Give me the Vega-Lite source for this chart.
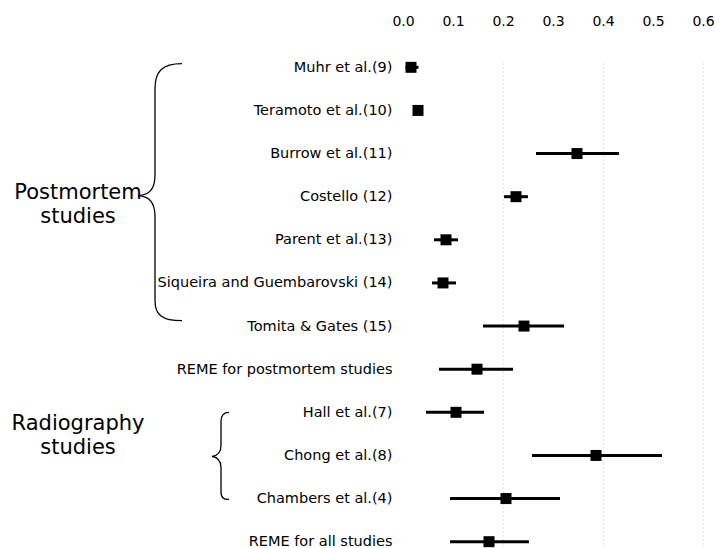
{
  "$schema": "https://vega.github.io/schema/vega-lite/v6.json",
  "padding": {"left": 0, "top": 14, "right": 0, "bottom": 0},
  "bounds": "flush",
  "spacing": 247,
  "config": {"view": {"stroke": null}, "font": "DejaVu Sans"},
  "resolve": {"scale": {"y": "independent"}},
  "datasets": {
    "studies": [
      {"study": "Muhr et al.(9)", "est": 0.016, "lower": 0.005, "upper": 0.031},
      {"study": "Teramoto et al.(10)", "est": 0.03, "lower": 0.026, "upper": 0.034},
      {"study": "Burrow et al.(11)", "est": 0.348, "lower": 0.266, "upper": 0.432},
      {"study": "Costello (12)", "est": 0.226, "lower": 0.202, "upper": 0.25},
      {"study": "Parent et al.(13)", "est": 0.086, "lower": 0.062, "upper": 0.11},
      {"study": "Siqueira and Guembarovski (14)", "est": 0.08, "lower": 0.058, "upper": 0.106},
      {"study": "Tomita & Gates (15)", "est": 0.242, "lower": 0.16, "upper": 0.322},
      {"study": "REME for postmortem studies", "est": 0.148, "lower": 0.072, "upper": 0.22},
      {"study": "Hall et al.(7)", "est": 0.106, "lower": 0.046, "upper": 0.162},
      {"study": "Chong et al.(8)", "est": 0.386, "lower": 0.258, "upper": 0.518},
      {"study": "Chambers et al.(4)", "est": 0.206, "lower": 0.094, "upper": 0.314},
      {"study": "REME for all studies", "est": 0.172, "lower": 0.094, "upper": 0.252}
    ],
    "groups": [
      {"group": "Postmortem\nstudies", "row": "Costello (12)", "kind": "postmortem"},
      {"group": "Radiography\nstudies", "row": "Chong et al.(8)", "kind": "radiography"}
    ]
  },
  "hconcat": [
    {
      "width": 156,
      "height": 483,
      "data": {"name": "groups"},
      "encoding": {
        "y": {
          "field": "row",
          "type": "nominal",
          "scale": {
            "type": "point",
            "padding": 0.1,
            "domain": ["Muhr et al.(9)", "Teramoto et al.(10)", "Burrow et al.(11)", "Costello (12)", "Parent et al.(13)", "Siqueira and Guembarovski (14)", "Tomita & Gates (15)", "REME for postmortem studies", "Hall et al.(7)", "Chong et al.(8)", "Chambers et al.(4)", "REME for all studies"]
          },
          "axis": null
        }
      },
      "layer": [
        {
          "transform": [{"filter": "datum.kind === 'postmortem'"}],
          "mark": {"type": "text", "fontSize": 21, "lineBreak": "\n", "lineHeight": 24, "align": "center", "baseline": "alphabetic", "dy": 2, "color": "black"},
          "encoding": {"text": {"field": "group", "type": "nominal"}}
        },
        {
          "transform": [{"filter": "datum.kind === 'radiography'"}],
          "mark": {"type": "text", "fontSize": 21, "lineBreak": "\n", "lineHeight": 24, "align": "center", "baseline": "alphabetic", "dy": -25, "color": "black"},
          "encoding": {"text": {"field": "group", "type": "nominal"}}
        },
        {
          "transform": [{"filter": "datum.kind === 'postmortem'"}],
          "mark": {"type": "point", "shape": "M 0.26 -1.33 C 0.06 -1.33 -0.01 -1.25 -0.01 -1.08 L -0.01 -0.22 C -0.01 -0.08 -0.06 -0.02 -0.18 -0.01 C -0.06 0.0 -0.01 0.06 -0.01 0.2 L -0.01 1.04 C -0.01 1.18 0.06 1.24 0.26 1.24", "size": 40000, "filled": false, "color": "black", "strokeWidth": 1.3, "opacity": 1},
          "encoding": {"x": {"value": "width"}}
        },
        {
          "transform": [{"filter": "datum.kind === 'radiography'"}],
          "mark": {"type": "point", "shape": "M 0.73 -0.43 C 0.67 -0.43 0.65 -0.4 0.65 -0.34 L 0.65 -0.1 C 0.65 -0.03 0.62 0.0 0.56 0.01 C 0.62 0.02 0.65 0.05 0.65 0.12 L 0.65 0.36 C 0.65 0.42 0.67 0.44 0.73 0.44", "size": 40000, "filled": false, "color": "black", "strokeWidth": 1.3, "opacity": 1},
          "encoding": {"x": {"value": "width"}}
        }
      ]
    },
    {
      "width": 300,
      "height": 483,
      "data": {"name": "studies"},
      "encoding": {
        "y": {
          "field": "study",
          "type": "nominal",
          "scale": {
            "type": "point",
            "padding": 0.1,
            "domain": ["Muhr et al.(9)", "Teramoto et al.(10)", "Burrow et al.(11)", "Costello (12)", "Parent et al.(13)", "Siqueira and Guembarovski (14)", "Tomita & Gates (15)", "REME for postmortem studies", "Hall et al.(7)", "Chong et al.(8)", "Chambers et al.(4)", "REME for all studies"]
          },
          "axis": {"title": null, "ticks": false, "tickSize": 0, "domain": false, "labelPadding": 11, "labelFontSize": 14.5, "labelFont": "DejaVu Sans", "labelColor": "black", "labelLimit": 400}
        }
      },
      "layer": [
        {
          "mark": {"type": "rule", "strokeWidth": 3, "color": "black"},
          "encoding": {
            "x": {
              "field": "lower",
              "type": "quantitative",
              "scale": {"domain": [0, 0.6], "nice": false, "zero": false},
              "axis": {
                "orient": "top",
                "title": null,
                "values": [0, 0.1, 0.2, 0.3, 0.4, 0.5, 0.6],
                "format": ".1f",
                "ticks": false,
                "tickSize": 0,
                "domain": false,
                "labelPadding": 35,
                "labelFontSize": 14,
                "labelFont": "DejaVu Sans",
                "labelColor": "black",
                "labelFlush": false,
                "labelOverlap": false,
                "grid": true,
                "gridDash": [1, 3],
                "gridColor": "#cccccc",
                "gridOpacity": {"condition": {"test": "datum.value > 0.15 && round(datum.value * 10) % 2 == 0", "value": 1}, "value": 0}
              }
            },
            "x2": {"field": "upper"}
          }
        },
        {
          "mark": {"type": "point", "shape": "square", "filled": true, "size": 121, "color": "black", "opacity": 1},
          "encoding": {"x": {"field": "est", "type": "quantitative"}}
        }
      ]
    }
  ]
}
